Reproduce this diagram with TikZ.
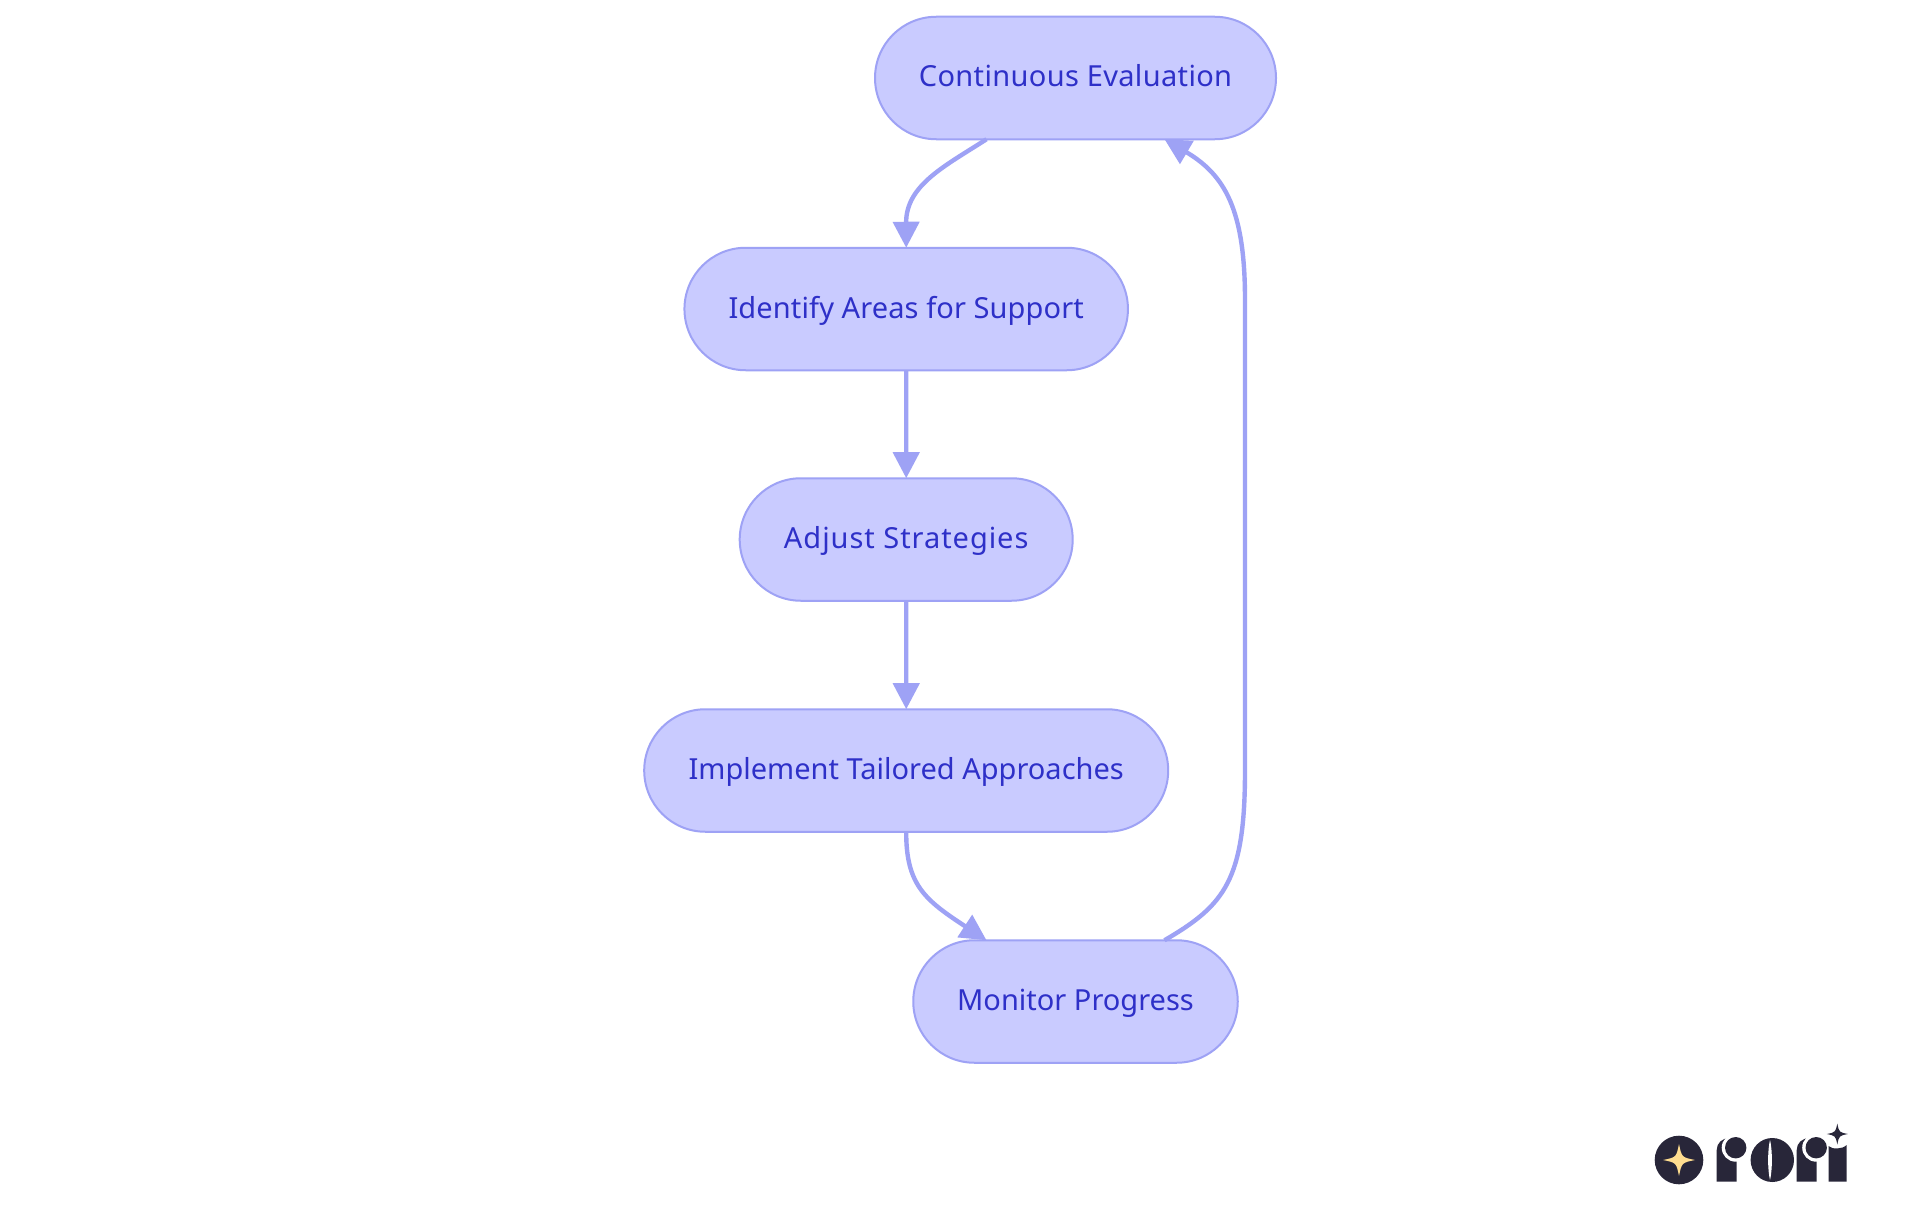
\documentclass[tikz,border=0pt]{standalone}
\usepackage{fontspec}
\setmainfont{Noto Sans}
\usetikzlibrary{arrows.meta,calc,shapes.misc}
\definecolor{nodefill}{HTML}{C9CBFF}
\definecolor{nodeline}{HTML}{9EA2F5}
\definecolor{nodetext}{HTML}{2E30C8}
\definecolor{logodark}{HTML}{282639}
\definecolor{logostar}{HTML}{FFDD8F}
\tikzset{
  flowbox/.style={rounded rectangle,draw=nodeline,fill=nodefill,line width=2pt,outer sep=0pt,
    minimum height=122.5pt,inner sep=0pt,text=nodetext,text height=24pt,text depth=6pt,font=\fontsize{29}{35}\selectfont},
  edge/.style={draw=nodeline,line width=4.4pt,-{Triangle[length=26pt,width=26pt,fill=nodeline]}},
}
\newcommand{\mysparkle}[4]{\fill[#4] (#1,#2-#3) .. controls (#1+.17*#3,#2-.17*#3) .. (#1+#3,#2) .. controls (#1+.17*#3,#2+.17*#3) .. (#1,#2+#3) .. controls (#1-.17*#3,#2+.17*#3) .. (#1-#3,#2) .. controls (#1-.17*#3,#2-.17*#3) .. cycle;}
\begin{document}
\begin{tikzpicture}[x=1pt,y=-1pt]
\useasboundingbox[fill=white] (0,0) rectangle (1920,1215);
\node[flowbox,minimum width=401pt] (a) at (1075.5,78) {\addfontfeatures{LetterSpace=1.2}Continuous Evaluation};
\node[flowbox,minimum width=443.5pt] (b) at (906.2,309) {\addfontfeatures{LetterSpace=.4}Identify Areas for Support};
\node[flowbox,minimum width=333pt] (c) at (906.2,539.5) {\addfontfeatures{LetterSpace=3.3}Adjust Strategies};
\node[flowbox,minimum width=524pt] (d) at (906.2,770.5) {Implement Tailored Approaches};
\node[flowbox,minimum width=324.5pt] (e) at (1075.5,1001.5) {Monitor Progress};
\draw[edge] ([xshift=-89pt]a.south) .. controls (945,166) and (906,185) .. (b.north);
\draw[edge] (b) -- (c);
\draw[edge] (c) -- (d);
\draw[edge] (d.south) .. controls (906,885) and (925,900) .. ([xshift=-89pt]e.north);
\draw[edge] ([xshift=89pt]e.north) .. controls (1225,905) and (1245,880) .. (1245,770) -- (1245,300) .. controls (1245,210) and (1225,175) .. ([xshift=89pt]a.south);
% logo
\fill[logodark] (1679,1160) circle (24.3);
\mysparkle{1679}{1160}{16}{logostar}
\fill[logodark] (1716.7,1181.7) -- (1716.7,1150) .. controls (1716.7,1143) and (1722,1138) .. (1730,1138) -- (1736.7,1138) -- (1736.7,1181.7) -- cycle;
\fill[white] (1735.7,1147.7) circle (14);
\fill[logodark] (1735.7,1147.7) circle (10.7);
\fill[logodark] (1772.3,1160) ellipse (21.7 and 22);
\fill[white] (1770,1140) .. controls (1772.5,1150) and (1772.5,1170) .. (1770,1180) .. controls (1767.5,1170) and (1767.5,1150) .. cycle;
\fill[logodark] (1796.7,1181.7) -- (1796.7,1150) .. controls (1796.7,1143) and (1802,1138) .. (1810,1138) -- (1816.7,1138) -- (1816.7,1181.7) -- cycle;
\fill[white] (1816.2,1147.7) circle (14);
\fill[logodark] (1816.2,1147.7) circle (10.7);
\fill[logodark] (1828.5,1181.7) -- (1828.5,1146) .. controls (1832,1149.5) and (1842,1149.5) .. (1846.7,1145) -- (1846.7,1181.7) -- cycle;
\mysparkle{1837.3}{1134}{10.5}{logodark}
\end{tikzpicture}
\end{document}
